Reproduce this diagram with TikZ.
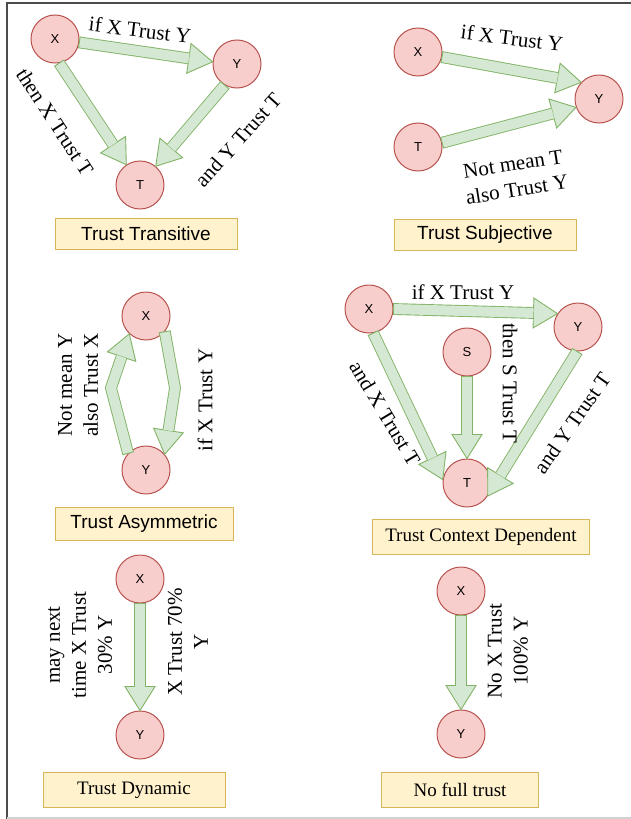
\documentclass[tikz,border=0pt]{standalone}
\usepackage{fontspec}
\setmainfont{Liberation Serif}
\setsansfont{Liberation Sans}
\usetikzlibrary{calc}

\definecolor{nodefill}{HTML}{F8CECC}
\definecolor{nodeline}{HTML}{B85450}
\definecolor{arrfill}{HTML}{D5E8D4}
\definecolor{arrline}{HTML}{82B366}
\definecolor{boxfill}{HTML}{FFF2CC}
\definecolor{boxline}{HTML}{D6B656}

\tikzset{
  agent/.style={circle, draw=nodeline, fill=nodefill, line width=1pt,
    minimum size=48pt, inner sep=0pt, font=\sffamily\fontsize{13}{13}\selectfont},
  caption/.style={draw=boxline, fill=boxfill, line width=1pt, inner sep=0pt,
    minimum height=31pt, font=\fontsize{19}{19}\selectfont},
  capsans/.style={caption, font=\sffamily\fontsize{19}{19}\selectfont},
  lbl/.style={font=\fontsize{21}{26}\selectfont, align=center, inner sep=0pt},
  shaft/.style={draw=arrline, double=arrfill, double distance=10pt, line width=0.9pt},
  tip/.style={draw=arrline, fill=arrfill, line width=0.9pt, line join=miter},
}

\newcommand{\headlen}{24pt}
\newcommand{\headw}{15pt}
% straight block arrow, #1 tail, #2 tip
\newcommand{\flexarrow}[2]{%
  \filldraw[tip] ($#2!\headlen!#1!\headw!90:#1$) -- #2 -- ($#2!\headlen!#1!\headw!-90:#1$) -- cycle;
  \draw[shaft] #1 -- ($#2!\headlen!#1$);
  \draw[arrline, line width=0.9pt] ($#1!5.9pt!90:#2$) -- ($#1!5.9pt!-90:#2$);
}
% block arrow with one bend, #1 tail, #2 bend, #3 tip
\newcommand{\flexbent}[3]{%
  \filldraw[tip] ($#3!\headlen!#2!\headw!90:#2$) -- #3 -- ($#3!\headlen!#2!\headw!-90:#2$) -- cycle;
  \draw[shaft, line join=miter] #1 -- #2 -- ($#3!\headlen!#2$);
  \draw[arrline, line width=0.9pt] ($#1!5.9pt!90:#2$) -- ($#1!5.9pt!-90:#2$);
}

\begin{document}
\begin{tikzpicture}[x=1pt, y=-1pt]
  \useasboundingbox (0,0) rectangle (631,819);

  % frame
  \draw[gray!60!black, line width=1.5pt] (7,819) -- (7,3) -- (631,3);
  \draw[gray!35, line width=1.5pt] (7,818) -- (631,818);

  % transitive
  \node[agent] (x1) at (55,39) {X};
  \node[agent] (y1) at (237,64) {Y};
  \node[agent] (t1) at (140,185) {T};
  \flexarrow{(x1.-8)}{(y1.175)}
  \flexarrow{(x1.-80)}{(t1.124)}
  \flexarrow{(y1.-120)}{(t1.50)}
  \node[lbl, rotate=-7] (l1a) at (140,30) {if X Trust Y};
  \node[lbl, rotate=-57] (l1b) at (55,122) {then X Trust T};
  \node[lbl, rotate=48] (l1c) at (238,140) {and Y Trust T};
  \node[capsans, minimum width=182pt] (c1) at (146,234) {Trust Transitive};

  % subjective
  \node[agent] (x2) at (418,52) {X};
  \node[agent] (y2) at (599,99) {Y};
  \node[agent] (t2) at (418,147) {T};
  \flexarrow{(x2.-12)}{(y2.137)}
  \flexarrow{(t2.10)}{(y2.-160)}
  \node[lbl, rotate=-7] (l2a) at (512,38) {if X Trust Y};
  \node[lbl, rotate=9] (l2b) at (515,177) {Not mean T\\also Trust Y};
  \node[capsans, minimum width=182pt] (c2) at (485,235) {Trust Subjective};

  % asymmetric
  \node[agent] (x3) at (146,316) {X};
  \node[agent] (y3) at (146,470) {Y};
  \coordinate (b3r) at (175,388);
  \coordinate (b3l) at (111,388);
  \flexbent{(x3.-40)}{(b3r)}{(y3.40)}
  \flexbent{(y3.137)}{(b3l)}{(x3.-133)}
  \node[lbl, rotate=90] (l3a) at (205,400) {if X Trust Y};
  \node[lbl, rotate=90] (l3b) at (78,385) {Not mean Y\\also Trust X};
  \node[capsans, minimum width=178pt, minimum height=33pt] (c3) at (144,524) {Trust Asymmetric};

  % context dependent
  \node[agent] (x4) at (369,309) {X};
  \node[agent] (y4) at (578,327) {Y};
  \node[agent] (s4) at (467,352) {S};
  \node[agent] (t4) at (467,483) {T};
  \flexarrow{(x4.0)}{(y4.147)}
  \flexarrow{(x4.-80)}{(t4.172)}
  \flexarrow{(s4.-90)}{(t4.90)}
  \flexarrow{(y4.-92)}{(t4.-32)}
  \node[lbl] (l4a) at (463,292) {if X Trust Y};
  \node[lbl, rotate=-90] (l4b) at (510,383) {then S Trust T};
  \node[lbl, rotate=-59] (l4c) at (385,413) {and X Trust T};
  \node[lbl, rotate=55] (l4d) at (572,423) {and Y Trust T};
  \node[caption, minimum width=217pt, minimum height=35pt] (c4) at (481,537) {Trust Context Dependent};

  % dynamic
  \node[agent] (x5) at (140,579) {X};
  \node[agent] (y5) at (140,735) {Y};
  \flexarrow{(x5.-90)}{(y5.90)}
  \node[lbl, rotate=90] (l5a) at (80,645) {may next\\time X Trust\\30\% Y};
  \node[lbl, rotate=90] (l5b) at (188,642) {X Trust 70\%\\Y};
  \node[caption, minimum width=182pt, minimum height=35pt] (c5) at (134,790) {Trust Dynamic};

  % no full trust
  \node[agent] (x6) at (461,591) {X};
  \node[agent] (y6) at (461,734) {Y};
  \flexarrow{(x6.-90)}{(y6.90)}
  \node[lbl, rotate=90] (l6a) at (508,651) {No X Trust\\100\% Y};
  \node[caption, minimum width=157pt, minimum height=35pt] (c6) at (460,790) {No full trust};
\end{tikzpicture}
\end{document}
